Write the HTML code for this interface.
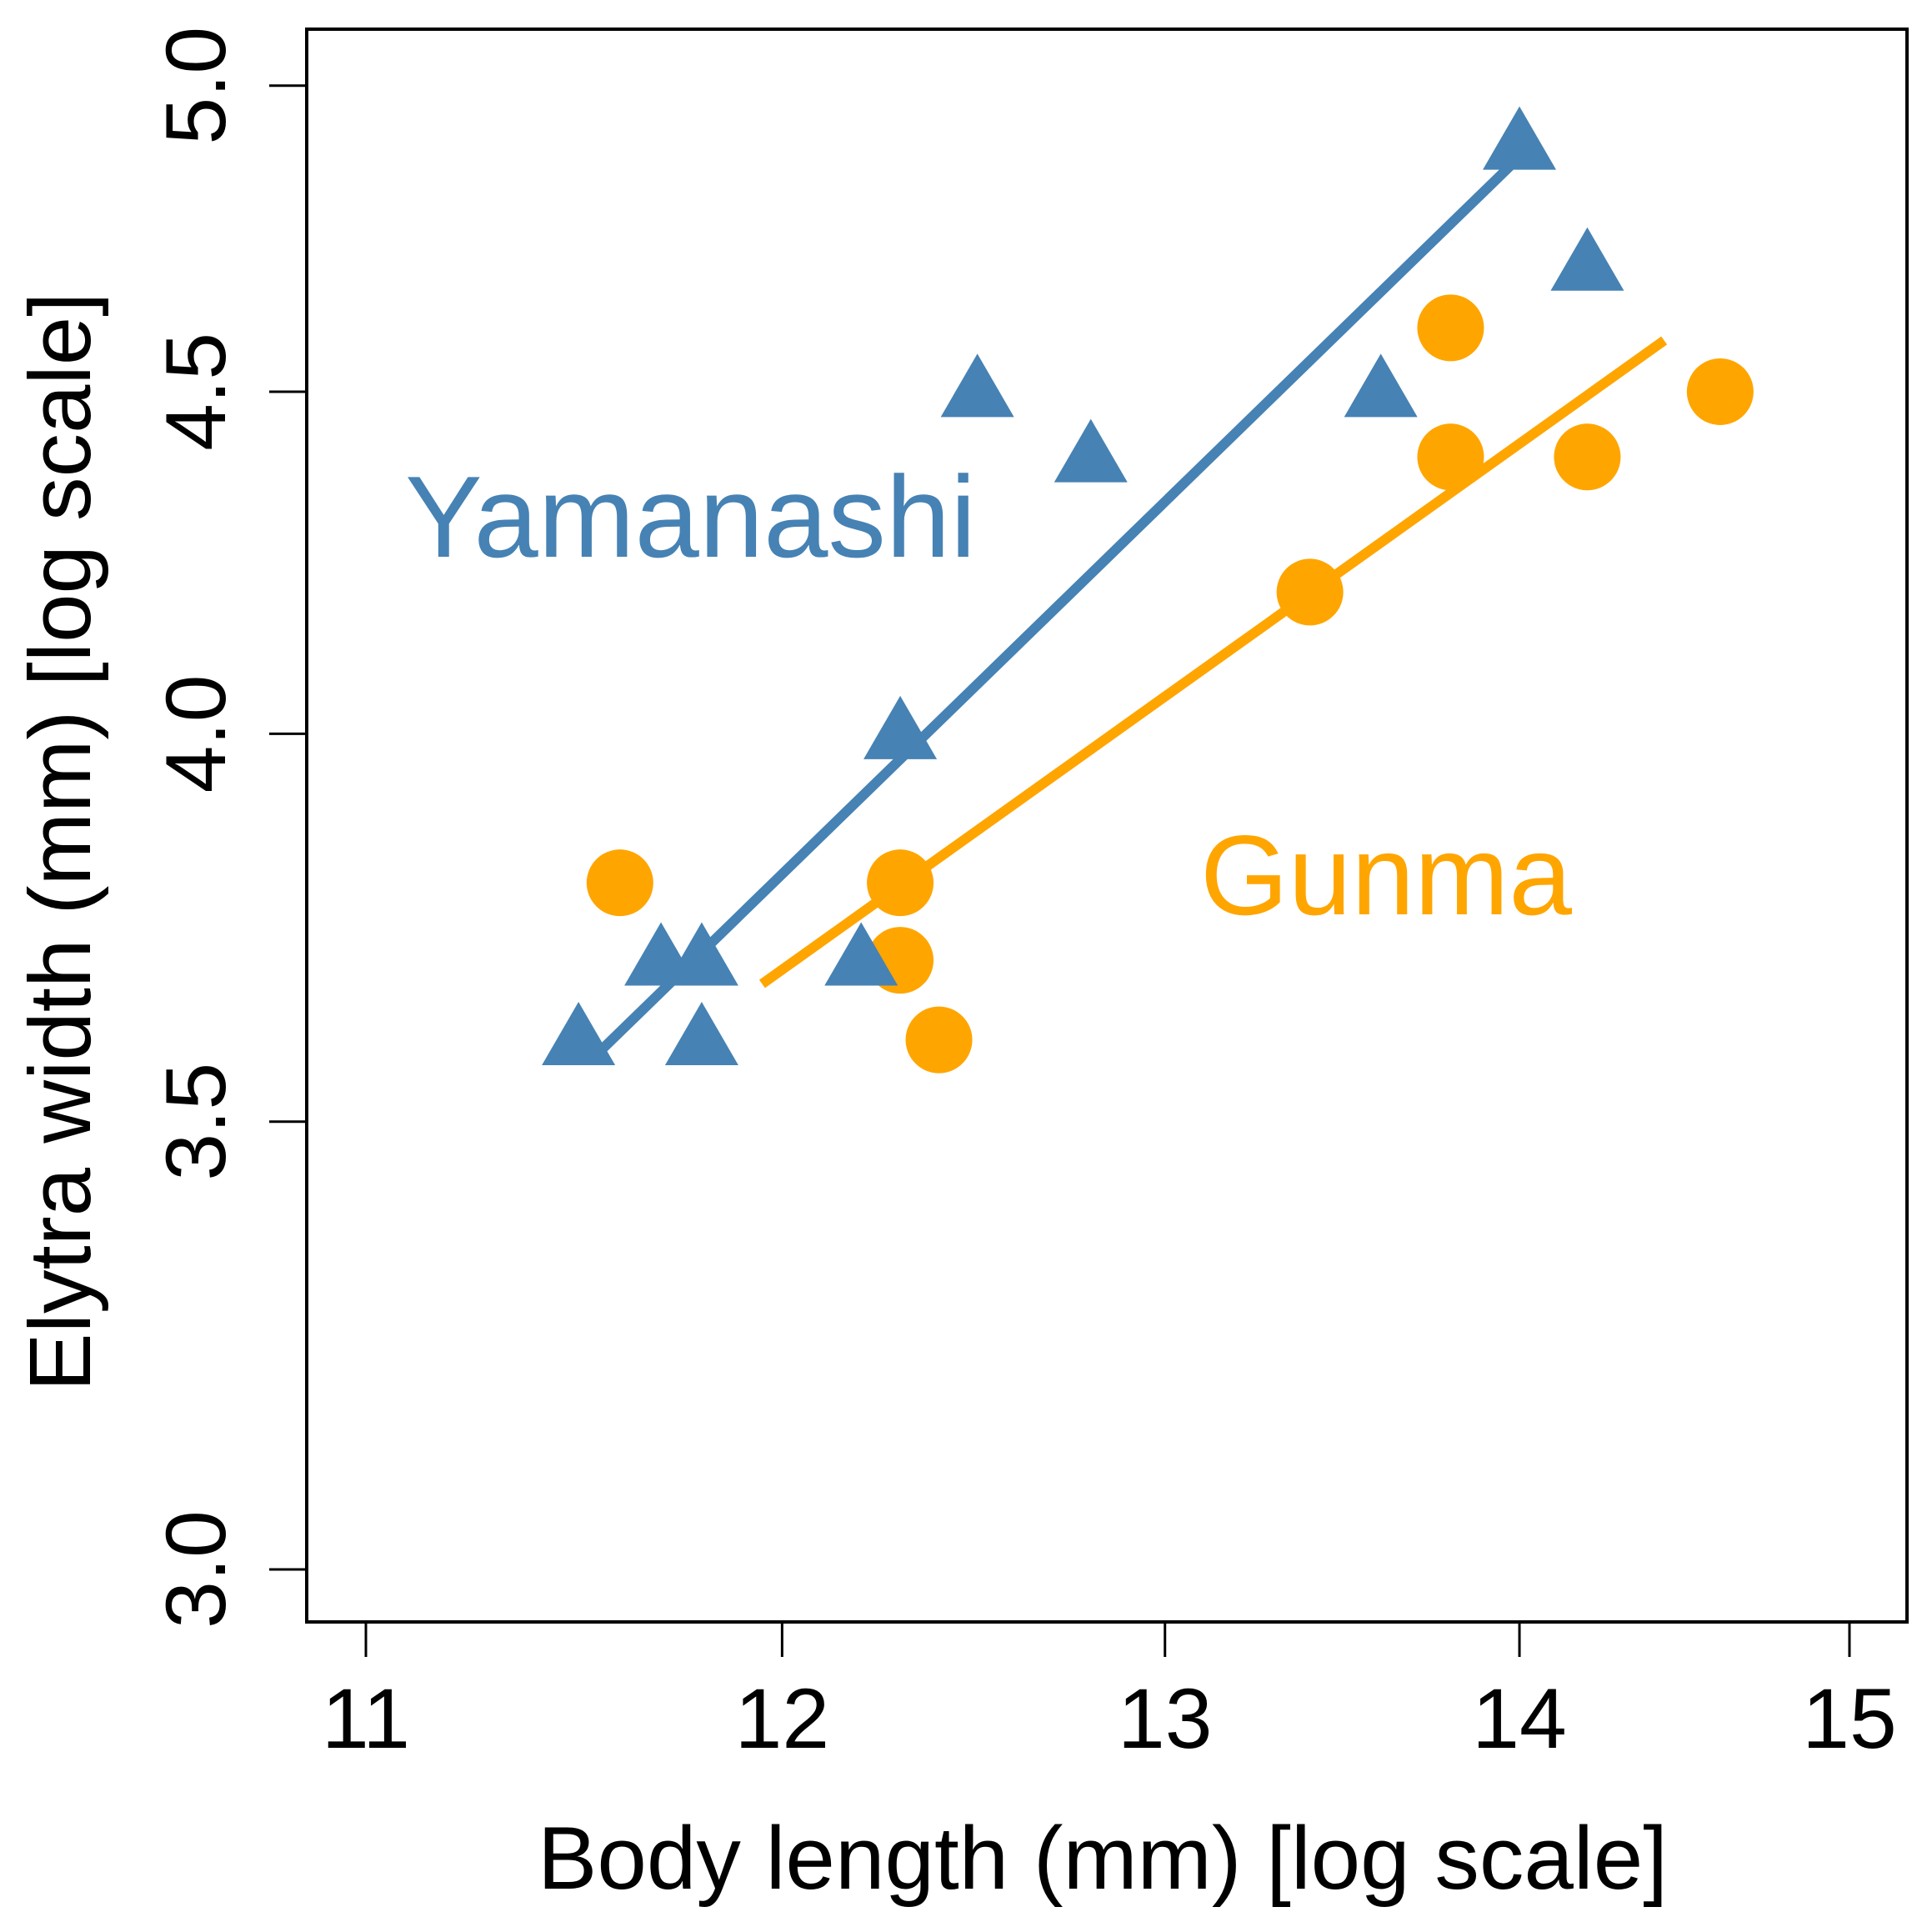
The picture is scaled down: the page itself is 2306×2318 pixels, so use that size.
<!DOCTYPE html>
<html><head><meta charset="utf-8"><style>
html,body{margin:0;padding:0;background:#fff;}
svg text{font-family:"Liberation Sans",sans-serif;}
</style></head><body>
<svg id="chart" width="2306" height="2313" viewBox="0 0 2306 2313" xmlns="http://www.w3.org/2000/svg">
<rect width="2306" height="2313" fill="#fff"/>
<g id="marks"></g>
<rect x="368" y="35" width="1920" height="1911" fill="none" stroke="#000" stroke-width="4"/>
<g id="axes"></g>
<text x="486" y="668" font-size="139" fill="#4682b4">Yamanashi</text>
<text x="1440" y="1097" font-size="136" fill="#ffa500">Gunma</text>
<text x="1323" y="2266" font-size="107" text-anchor="middle">Body length (mm) [log scale]</text>
<text transform="translate(108,1010) rotate(-90)" font-size="105" text-anchor="middle">Elytra width (mm) [log scale]</text>
</svg>
<script>
const xTicks=[11,12,13,14,15];
const yTicks=[3.0,3.5,4.0,4.5,5.0];
const yamX=[11.5,11.7,11.8,11.8,12.2,12.3,12.5,12.8,13.6,14.0,14.2];
const yamY=[3.6,3.7,3.7,3.6,3.7,4.0,4.5,4.4,4.5,4.9,4.7];
const gunX=[11.6,12.3,12.3,12.4,13.4,13.8,13.8,14.2,14.6];
const gunY=[3.8,3.8,3.7,3.6,4.2,4.6,4.4,4.4,4.5];
const yamFitX=[11.55,14.02];
const yamFitY=[3.585,4.89];
const gunFitX=[11.95,14.43];
const gunFitY=[3.67,4.58];

const NS="http://www.w3.org/2000/svg";
function sx(v){return 439+(Math.log(v)-Math.log(11))*5739;}
function sy(v){return 1883-(Math.log(v)-Math.log(3))*3485;}
const marks=document.getElementById('marks');
const axes=document.getElementById('axes');
function mk(tag,attrs,parent){const e=document.createElementNS(NS,tag);for(const k in attrs)e.setAttribute(k,attrs[k]);parent.appendChild(e);return e;}

xTicks.forEach(t=>{
  const l=mk('line',{x1:sx(t),x2:sx(t),y1:1946,y2:1988,stroke:'#000','stroke-width':3},axes);
  
  
  const tx=mk('text',{x:sx(t),y:2097,'font-size':102,'text-anchor':'middle'},axes);
  tx.textContent=String(t);
  
  
});
yTicks.forEach(t=>{
  const l=mk('line',{x1:323,x2:368,y1:sy(t),y2:sy(t),stroke:'#000','stroke-width':3},axes);
  
  
  const tx=mk('text',{transform:`translate(270,${sy(t)}) rotate(-90)`,'font-size':102,'text-anchor':'middle'},axes);
  tx.textContent=t.toFixed(1);
  
  
});

const yl=mk('line',{x1:sx(yamFitX[0]),y1:sy(yamFitY[0]),x2:sx(yamFitX[1]),y2:sy(yamFitY[1]),stroke:'#4682b4','stroke-width':12},marks);


const gl=mk('line',{x1:sx(gunFitX[0]),y1:sy(gunFitY[0]),x2:sx(gunFitX[1]),y2:sy(gunFitY[1]),stroke:'#ffa500','stroke-width':12},marks);



gunX.forEach((x,i)=>{
  const c=mk('circle',{cx:sx(x),cy:sy(gunY[i]),r:40,fill:'#ffa500'},marks);
  
  
});
yamX.forEach((x,i)=>{
  const cx=sx(x),cy=sy(yamY[i]);
  const h=76,w=88;
  const p=mk('polygon',{points:`${cx},${cy-h*0.6} ${cx-w/2},${cy+h*0.4} ${cx+w/2},${cy+h*0.4}`,fill:'#4682b4'},marks);
  
  
});
</script>
</body></html>
